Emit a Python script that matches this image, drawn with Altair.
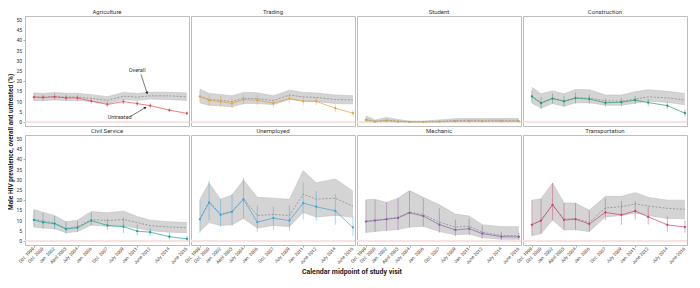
import altair as alt
import pandas as pd

# ---------------- data ----------------
DATES = ["1999-10-15", "2000-10-15", "2002-01-15", "2003-04-15", "2004-07-15", "2006-01-15",
         "2007-10-15", "2009-07-15", "2011-01-15", "2012-06-15", "2014-07-15", "2016-06-15"]
TICK_LABELS = ["Oct. 1999", "Oct. 2000", "Jan. 2002", "April 2003", "July 2004", "Jan. 2006",
               "Oct. 2007", "July 2009", "Jan. 2011", "June 2012", "July 2014", "June 2016"]
Y_TICKS = [0, 5, 10, 15, 20, 25, 30, 35, 40, 45, 50]

OCCUPATIONS = ["Agriculture", "Trading", "Student", "Construction",
               "Civil Service", "Unemployed", "Mechanic", "Transportation"]
COLORS = ["#e5474f", "#e3a13a", "#b7b23d", "#24967a",
          "#1c9e99", "#3fa3d6", "#8a5fa3", "#cf3f6b"]

UNTREATED = [
    [12.2, 12.0, 12.3, 11.8, 11.8, 10.2, 8.6, 10.0, 9.0, 8.0, 5.8, 4.2],
    [12.5, 10.6, 10.0, 9.1, 11.0, 10.7, 9.2, 11.5, 10.1, 10.1, 6.7, 4.3],
    [1.0, 0.2, 0.6, 0.2, 0.0, 0.0, 0.1, 0.3, 0.3, 0.3, 0.3, 0.3],
    [12.5, 9.2, 11.5, 10.1, 11.7, 11.2, 9.4, 9.7, 10.7, 9.5, 8.0, 4.3],
    [10.3, 9.1, 8.5, 5.8, 6.5, 10.0, 7.6, 7.0, 4.8, 4.3, 2.1, 1.0],
    [10.6, 18.9, 12.8, 14.3, 20.4, 9.2, 11.2, 10.0, 18.6, 16.8, 14.7, 6.6],
    [9.5, 10.0, 10.6, 11.3, 13.8, 12.2, 8.0, 5.4, 6.0, 3.6, 2.1, 2.0],
    [7.9, 10.0, 17.7, 10.3, 10.7, 8.3, 14.0, 12.8, 14.7, 11.8, 7.9, 6.8],
]
UNTREATED_LO = [
    [10.5, 10.5, 10.8, 10.3, 10.3, 9.0, 7.4, 8.7, 7.8, 6.9, 4.8, 3.3],
    [10.0, 8.0, 7.5, 6.6, 8.5, 8.3, 7.2, 9.4, 8.2, 8.2, 5.0, 2.8],
    [0.2, 0.0, 0.0, 0.0, 0.0, 0.0, 0.0, 0.0, 0.0, 0.0, 0.0, 0.0],
    [9.5, 6.5, 9.0, 7.5, 9.0, 9.0, 7.5, 7.7, 8.7, 7.8, 6.3, 2.8],
    [6.8, 6.0, 5.6, 3.6, 4.5, 7.5, 5.3, 3.8, 2.8, 2.6, 0.8, 0.2],
    [4.0, 10.0, 7.0, 7.5, 11.0, 4.5, 5.5, 5.0, 10.5, 10.0, 8.0, 2.5],
    [4.0, 4.5, 5.0, 5.3, 6.5, 7.0, 4.0, 2.3, 2.8, 1.2, 0.5, 0.5],
    [2.5, 3.5, 10.3, 5.4, 5.5, 4.6, 10.0, 8.0, 10.5, 8.0, 4.5, 4.0],
]
UNTREATED_HI = [
    [14.0, 13.6, 14.0, 13.4, 13.4, 11.5, 9.9, 11.4, 10.3, 9.2, 6.9, 5.2],
    [15.2, 13.4, 12.7, 11.8, 13.6, 13.3, 11.4, 13.7, 12.2, 12.2, 8.6, 6.0],
    [2.2, 0.8, 1.4, 0.8, 0.3, 0.3, 0.5, 0.8, 0.8, 0.8, 0.8, 0.8],
    [15.5, 12.2, 14.0, 12.8, 14.5, 13.5, 11.5, 11.8, 12.8, 11.3, 9.8, 6.0],
    [15.0, 13.8, 12.2, 9.6, 9.8, 14.0, 11.0, 11.5, 8.0, 6.5, 4.0, 2.5],
    [20.0, 29.5, 20.5, 23.0, 31.0, 17.5, 17.0, 17.5, 28.5, 24.5, 23.0, 12.0],
    [20.0, 20.0, 19.0, 21.0, 24.5, 21.0, 16.0, 10.5, 11.0, 7.5, 4.5, 4.0],
    [20.0, 20.7, 28.4, 18.6, 18.6, 15.0, 21.0, 19.5, 19.5, 17.0, 12.0, 10.0],
]
OVERALL = [
    [12.3, 12.1, 12.5, 12.2, 12.2, 11.6, 10.6, 12.6, 12.2, 12.8, 12.8, 12.3],
    [12.6, 11.0, 10.6, 10.0, 11.6, 11.5, 10.5, 13.2, 12.3, 12.0, 11.0, 10.8],
    [1.2, 0.3, 0.9, 0.4, 0.1, 0.1, 0.3, 0.7, 0.8, 0.8, 0.8, 0.8],
    [12.6, 9.5, 11.6, 10.2, 11.8, 11.7, 10.3, 10.2, 11.2, 12.3, 11.8, 10.8],
    [10.5, 9.8, 8.8, 6.2, 7.0, 10.5, 10.0, 10.5, 9.0, 7.5, 6.8, 6.5],
    [10.8, 19.2, 13.2, 14.5, 20.8, 12.5, 13.0, 12.5, 23.0, 20.5, 21.0, 17.0],
    [9.7, 10.2, 10.9, 11.6, 14.2, 12.9, 9.2, 6.8, 7.2, 4.3, 2.7, 2.6],
    [8.1, 10.2, 18.0, 10.6, 11.0, 9.0, 16.2, 16.8, 18.2, 17.2, 16.0, 15.5],
]
OVERALL_LO = [
    [10.5, 10.4, 10.8, 10.5, 10.5, 10.0, 9.0, 10.9, 10.6, 11.2, 11.0, 10.5],
    [9.3, 8.2, 7.9, 7.4, 9.0, 9.0, 8.5, 11.0, 10.3, 10.0, 9.0, 8.8],
    [0.2, 0.0, 0.2, 0.0, 0.0, 0.0, 0.0, 0.1, 0.2, 0.2, 0.2, 0.2],
    [9.2, 6.8, 9.0, 7.7, 9.4, 9.4, 8.2, 8.2, 9.2, 10.2, 9.6, 8.4],
    [6.8, 6.4, 6.0, 4.0, 4.6, 7.8, 7.2, 7.5, 6.2, 5.0, 4.3, 4.0],
    [4.6, 9.0, 7.6, 7.9, 11.0, 6.3, 7.6, 7.0, 14.0, 11.8, 12.5, 11.7],
    [4.2, 4.6, 5.2, 5.6, 6.8, 7.2, 4.6, 3.0, 3.4, 1.6, 0.8, 0.8],
    [2.5, 3.6, 10.3, 5.4, 5.5, 4.6, 11.8, 12.5, 13.7, 12.5, 11.0, 10.9],
]
OVERALL_HI = [
    [14.3, 14.0, 14.4, 14.1, 14.1, 13.4, 12.4, 14.5, 14.0, 14.6, 14.6, 14.2],
    [16.2, 14.0, 13.5, 12.8, 14.5, 14.3, 12.8, 15.6, 14.5, 14.2, 13.2, 12.9],
    [3.0, 1.0, 2.2, 1.2, 0.4, 0.4, 1.0, 1.6, 1.7, 1.7, 1.7, 1.7],
    [17.0, 13.8, 15.2, 13.8, 15.9, 15.8, 13.2, 13.2, 14.8, 15.8, 15.0, 14.0],
    [15.4, 14.0, 12.5, 9.4, 10.2, 14.5, 13.8, 14.6, 12.0, 10.2, 9.4, 9.0],
    [20.4, 28.4, 20.4, 22.5, 29.9, 21.4, 21.0, 20.4, 34.5, 28.6, 30.4, 24.4],
    [20.2, 20.4, 18.9, 21.0, 24.7, 21.4, 17.7, 13.2, 12.2, 8.0, 7.0, 7.0],
    [20.0, 20.7, 28.4, 18.6, 18.6, 15.0, 21.9, 21.9, 23.7, 21.4, 20.0, 20.0],
]

# annotations (Agriculture panel), in data coordinates (decimal years, %)
ANN_TEXT = ["Overall", "Untreated"]
ANN_TEXT_X = [2011.03, 2009.13]
ANN_TEXT_Y = [25.4, 2.5]
ANN_FROM_X = [2011.45, 2010.28]
ANN_FROM_Y = [23.3, 2.6]
ANN_TO_X = [2012.1, 2011.88]
ANN_TO_Y = [14.4, 6.9]
ANN_HEAD_ANGLE = [162, 58]

X_DOMAIN = [1998.82, 2016.68]
Y_DOMAIN = [-2, 52]
LEFT_COLUMN = ["Agriculture", "Civil Service"]
BOTTOM_ROW = ["Civil Service", "Unemployed", "Mechanic", "Transportation"]


def dec_year(s):
    y, m, d = (int(p) for p in s.split("-"))
    return y + (m - 1) / 12 + (d - 1) / 365


TICK_POS = [dec_year(s) for s in DATES]

# ---------------- one long table ----------------
rows = []
for i, occ in enumerate(OCCUPATIONS):
    for j, t in enumerate(TICK_POS):
        rows.append(dict(kind="data", occ=occ, t=t,
                         un=UNTREATED[i][j], un_lo=UNTREATED_LO[i][j], un_hi=UNTREATED_HI[i][j],
                         ov=OVERALL[i][j], ov_lo=OVERALL_LO[i][j], ov_hi=OVERALL_HI[i][j]))
for k in range(len(ANN_TEXT)):
    rows.append(dict(kind="ann", occ="Agriculture", label=ANN_TEXT[k], tx=ANN_TEXT_X[k], ty=ANN_TEXT_Y[k],
                     fx=ANN_FROM_X[k], fy=ANN_FROM_Y[k], ex=ANN_TO_X[k], ey=ANN_TO_Y[k],
                     angle=ANN_HEAD_ANGLE[k]))
for occ in LEFT_COLUMN:
    for v in Y_TICKS:
        rows.append(dict(kind="ylab", occ=occ, yv=v, label=str(v)))
for occ in BOTTOM_ROW:
    for t, lab in zip(TICK_POS, TICK_LABELS):
        rows.append(dict(kind="xlab", occ=occ, xv=t, label=lab))
df = pd.DataFrame(rows)

FONT = "Roboto"
W, H = 164, 110

xscale = alt.Scale(domain=X_DOMAIN, nice=False, zero=False)
yscale = alt.Scale(domain=Y_DOMAIN, nice=False, zero=False)
xaxis = alt.Axis(values=TICK_POS, labels=False, ticks=True, tickSize=2, tickColor="#aaa",
                 domain=False, grid=False, title=None)
yaxis = alt.Axis(values=Y_TICKS, labels=False, ticks=True, tickSize=2, tickColor="#aaa",
                 domain=False, grid=False, title=None)

X = alt.X("t:Q", scale=xscale, axis=xaxis, title=None)
color_enc = alt.Color("occ:N", scale=alt.Scale(domain=OCCUPATIONS, range=COLORS), legend=None)

base = alt.Chart()
dd = base.transform_filter("datum.kind == 'data'")
aa = base.transform_filter("datum.kind == 'ann'")
yl = base.transform_filter("datum.kind == 'ylab'")
xl = base.transform_filter("datum.kind == 'xlab'")

band = dd.mark_area(color="#cfcfcf", opacity=0.9).encode(
    x=X, y=alt.Y("ov_lo:Q", scale=yscale, axis=yaxis, title=None), y2="ov_hi:Q")
zero = dd.mark_rule(color="#f8e1e1", strokeWidth=1).encode(y=alt.datum(0))
band_hi = dd.mark_line(color="#b8b8b8", strokeWidth=0.5).encode(x=alt.X("t:Q", title=None), y=alt.Y("ov_hi:Q", title=None))
band_lo = dd.mark_line(color="#b8b8b8", strokeWidth=0.5).encode(x=alt.X("t:Q", title=None), y=alt.Y("ov_lo:Q", title=None))
overall = dd.mark_line(color="#858585", strokeDash=[2, 1.5], strokeWidth=0.7).encode(
    x=alt.X("t:Q", title=None), y=alt.Y("ov:Q", title=None))
err = dd.mark_rule(strokeWidth=0.6, opacity=0.75).encode(
    x=alt.X("t:Q", title=None), y=alt.Y("un_lo:Q", title=None), y2="un_hi:Q", color=color_enc)
line = dd.mark_line(strokeWidth=0.7).encode(
    x=alt.X("t:Q", title=None), y=alt.Y("un:Q", title=None), color=color_enc)
pts = dd.mark_point(filled=True, size=5, opacity=1).encode(
    x=alt.X("t:Q", title=None), y=alt.Y("un:Q", title=None), color=color_enc)

ann_line = aa.mark_rule(color="#222", strokeWidth=0.6).encode(
    x=alt.X("fx:Q", title=None), x2="ex:Q", y=alt.Y("fy:Q", title=None), y2="ey:Q")
ann_head = aa.mark_point(shape="triangle", filled=True, size=9, color="#222", opacity=1).encode(
    x=alt.X("ex:Q", title=None), y=alt.Y("ey:Q", title=None), angle=alt.Angle("angle:Q", scale=None))
ann_text = aa.mark_text(fontSize=5.5, font=FONT).encode(
    x=alt.X("tx:Q", title=None), y=alt.Y("ty:Q", title=None), text="label:N", color=alt.value("#333"))

ylabels = yl.mark_text(align="right", baseline="middle", dx=-3, fontSize=5, font=FONT).encode(
    x=alt.datum(X_DOMAIN[0]), y=alt.Y("yv:Q", title=None), text="label:N", color=alt.value("#333"))
xlabels = xl.mark_text(align="right", baseline="middle", angle=315, dx=-2.5, dy=2.5,
                       fontSize=4.6, font=FONT).encode(
    x=alt.X("xv:Q", title=None), y=alt.datum(Y_DOMAIN[0]), text="label:N", color=alt.value("#333"))

layered = alt.layer(band, zero, band_hi, band_lo, overall, err, line, pts,
                    ann_line, ann_head, ann_text, ylabels, xlabels).properties(width=W, height=H)

faceted = layered.facet(
    facet=alt.Facet("occ:N", sort=OCCUPATIONS, title=None,
                    header=alt.Header(labelFontSize=6, labelPadding=1, labelColor="#333", labelFont=FONT)),
    columns=4, data=df, spacing={"row": 9, "column": 2}, bounds="flush",
).properties(title=alt.TitleParams("Calendar midpoint of study visit", orient="bottom", anchor="middle",
                                   fontSize=7, fontWeight="bold", font=FONT, color="#222", offset=3))

chart = (alt.vconcat(faceted).properties(
    padding=0,
    title=alt.TitleParams("Male HIV prevalence, overall and untreated (%)", orient="left", anchor="middle",
                          fontSize=6.5, fontWeight="bold", font=FONT, color="#222", offset=1))
    .configure_view(stroke="#bdbdbd", strokeWidth=1))

chart.save("out.html", embed_options={"renderer": "svg", "actions": False})
